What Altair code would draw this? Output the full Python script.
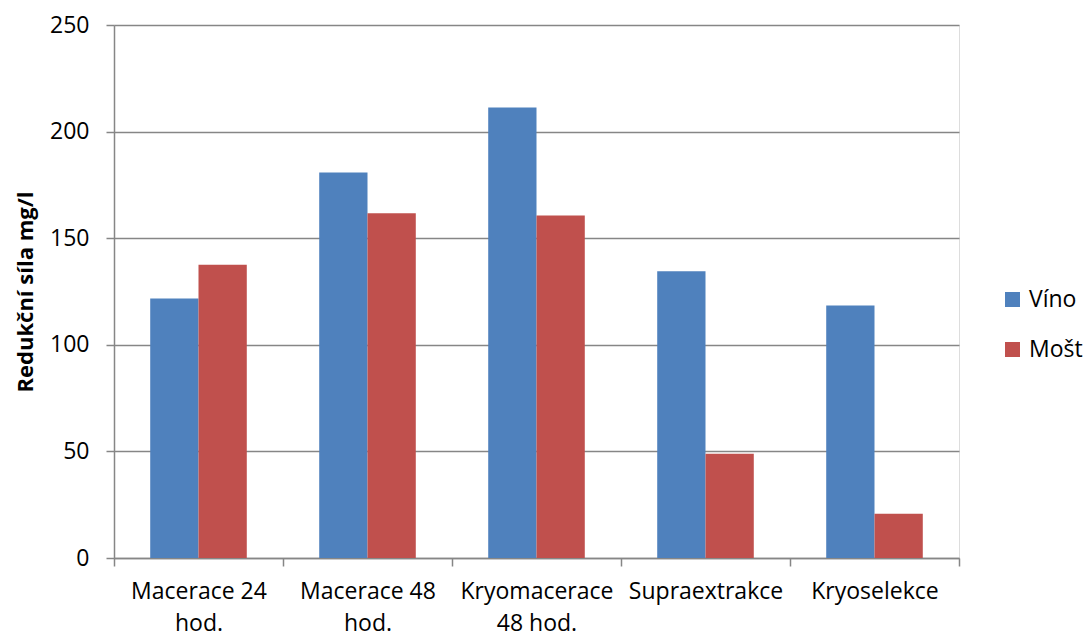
import altair as alt
import pandas as pd

# Reducing power per treatment, wine vs. must
categories = ["Macerace 24 hod.", "Macerace 48 hod.", "Kryomacerace 48 hod.", "Supraextrakce", "Kryoselekce"]
vino = [121.7, 180.8, 211.3, 134.5, 118.4]
most = [137.6, 161.7, 160.6, 48.9, 20.7]
series = ["Víno", "Mošt"]
colors = ["#4F81BD", "#C0504D"]

rows = []
for c, v, m in zip(categories, vino, most):
    rows.append({"kategorie": c, "serie": "Víno", "hodnota": v})
    rows.append({"kategorie": c, "serie": "Mošt", "hodnota": m})
df = pd.DataFrame(rows)

FONT = "Open Sans"
GRID = "#868686"

label_expr = (
    "datum.label == 'Kryomacerace 48 hod.' ? ['Kryomacerace', '48 hod.'] : "
    "(indexof(datum.label, ' hod.') > 0 ? [replace(datum.label, ' hod.', ''), 'hod.'] : datum.label)"
)

chart = (
    alt.Chart(df)
    .mark_bar()
    .encode(
        x=alt.X(
            "kategorie:N",
            sort=categories,
            title=None,
            scale=alt.Scale(paddingInner=0, paddingOuter=0),
            axis=alt.Axis(
                labelAngle=0,
                labelExpr=label_expr,
                labelFont=FONT,
                labelFontSize=23,
                labelColor="#000000",
                labelLineHeight=32,
                labelPadding=14,
                labelBaseline="top",
                tickBand="extent",
                tickSize=8,
                tickColor=GRID,
                tickWidth=1.5,
                domainColor=GRID,
                domainWidth=1.5,
                grid=False,
            ),
        ),
        xOffset=alt.XOffset(
            "serie:N",
            sort=series,
            scale=alt.Scale(paddingOuter=0.75, paddingInner=0),
        ),
        y=alt.Y(
            "hodnota:Q",
            title="Redukční síla mg/l",
            scale=alt.Scale(domain=[0, 250], nice=False),
            axis=alt.Axis(
                values=[0, 50, 100, 150, 200, 250],
                labelFont=FONT,
                labelFontSize=23,
                labelColor="#000000",
                labelPadding=17,
                tickSize=8,
                tickColor=GRID,
                tickWidth=1.5,
                domainColor=GRID,
                domainWidth=1.5,
                gridColor=GRID,
                gridWidth=1.5,
                titleFont=FONT,
                titleFontSize=22,
                titleFontWeight="bold",
                titleColor="#000000",
                titlePadding=12,
            ),
        ),
        color=alt.Color(
            "serie:N",
            sort=series,
            scale=alt.Scale(domain=series, range=colors),
            legend=alt.Legend(
                title=None,
                orient="none",
                legendX=887,
                legendY=263,
                symbolType="square",
                symbolSize=225,
                symbolStrokeWidth=0,
                labelFont=FONT,
                labelFontSize=23,
                labelColor="#000000",
                labelOffset=5,
                rowPadding=26,
            ),
        ),
    )
    .properties(
        width=845,
        height=533,
        padding={"left": 114, "top": 25, "right": 124, "bottom": 79},
        autosize=alt.AutoSizeParams(type="none"),
    )
    .configure_view(strokeWidth=0, stroke="transparent")
    .configure(background="#ffffff")
)

chart.save("out.html", embed_options={"renderer": "svg", "actions": False})
